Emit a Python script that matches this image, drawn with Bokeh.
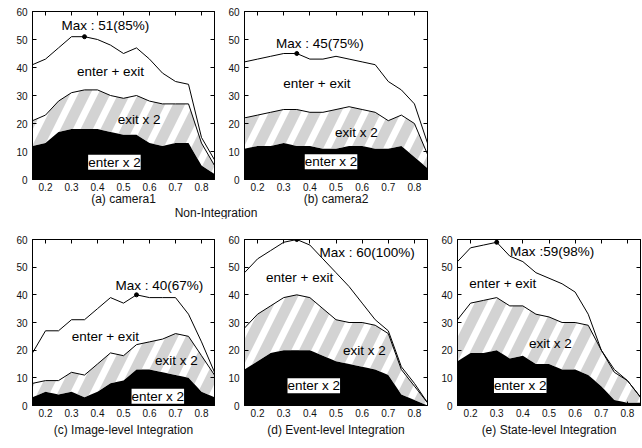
from bokeh.plotting import figure
from bokeh.models import Range1d, LinearAxis, FixedTicker, Label, Div
from bokeh.layouts import row, column
from bokeh.embed import file_html
from bokeh.resources import INLINE

# ---------------- data ----------------
x_vals = [0.15, 0.2, 0.25, 0.3, 0.35, 0.4, 0.45, 0.5, 0.55, 0.6, 0.65, 0.7, 0.75, 0.8, 0.85]
x_ticks = [0.2, 0.3, 0.4, 0.5, 0.6, 0.7, 0.8]
y_ticks = [0, 10, 20, 30, 40, 50, 60]

# (a) camera1
enter_a = [12, 13, 17, 18, 18, 18, 17, 16, 16, 13, 12, 13, 13, 5, 2]
exit_a = [21, 23, 28, 31, 32, 32, 30, 29, 30, 28, 27, 27, 27, 13, 5]
total_a = [41, 43, 47, 51, 51, 50, 48, 45, 47, 43, 38, 35, 34, 15, 7]
# (b) camera2
enter_b = [11, 12, 12, 13, 12, 12, 11, 11, 12, 12, 11, 11, 12, 8, 4]
exit_b = [22, 23, 24, 25, 25, 24, 24, 25, 26, 25, 24, 21, 23, 20, 9]
total_b = [42, 43, 44, 45, 45, 43, 43, 44, 43, 42, 41, 35, 32, 27, 13]
# (c) Image-level Integration
enter_c = [3, 5, 4, 5, 3, 5, 8, 9, 13, 13, 12, 11, 10, 5, 3]
exit_c = [8, 9, 9, 12, 11, 15, 19, 18, 22, 23, 24, 26, 25, 18, 11]
total_c = [19, 27, 27, 31, 31, 35, 39, 37, 40, 39, 39, 39, 33, 23, 12]
# (d) Event-level Integration
enter_d = [13, 16, 19, 20, 20, 20, 18, 16, 15, 14, 13, 11, 4, 2, 0]
exit_d = [28, 33, 36, 39, 40, 39, 35, 31, 30, 30, 29, 26, 13, 7, 1]
total_d = [48, 53, 56, 59, 60, 58, 53, 48, 43, 37, 31, 27, 14, 8, 1]
# (e) State-level Integration
enter_e = [16, 19, 19, 20, 17, 18, 15, 15, 13, 13, 11, 7, 2, 1, 1]
exit_e = [31, 37, 38, 39, 36, 36, 33, 32, 30, 30, 29, 20, 12, 9, 3]
total_e = [52, 57, 58, 59, 54, 52, 48, 46, 44, 41, 33, 20, 13, 9, 3]

captions = ["(a) camera1", "(b) camera2", "(c) Image-level Integration",
            "(d) Event-level Integration", "(e) State-level Integration"]
max_texts = ["Max : 51(85%)", "Max : 45(75%)", "Max : 40(67%)", "Max : 60(100%)", "Max :59(98%)"]
max_x = [0.35, 0.35, 0.55, 0.35, 0.3]
max_y = [51, 45, 40, 60, 59]
group_title = "Non-Integration"

# label placement (data coords) for: max text, enter+exit, exit x 2, enter x 2
label_pos = [
    [(0.43, 55.0), (0.45, 38.7), (0.56, 21.3), (0.465, 6.2)],
    [(0.438, 48.5), (0.427, 34.3), (0.578, 16.8), (0.481, 6.3)],
    [(0.638, 43.2), (0.43, 24.8), (0.703, 16.4), (0.632, 3.3)],
    [(0.619, 55.2), (0.361, 46.3), (0.609, 20.0), (0.415, 7.1)],
    [(0.512, 55.6), (0.323, 44.0), (0.505, 22.3), (0.39, 7.2)],
]

FONT = "Liberation Sans"


def make_panel(enter, ex, total, idx, width, height, left, right, top, bottom, cap_standoff):
    p = figure(width=width, height=height, output_backend="svg", toolbar_location=None,
               x_range=Range1d(0.15, 0.85), y_range=Range1d(0, 60),
               min_border_left=left, min_border_right=right,
               min_border_top=top, min_border_bottom=bottom)
    p.grid.visible = False
    p.outline_line_color = "black"
    p.outline_line_width = 1
    p.background_fill_color = "white"
    p.border_fill_color = "white"

    # areas
    p.varea(x=x_vals, y1=[0] * len(x_vals), y2=enter, fill_color="black")
    p.varea(x=x_vals, y1=enter, y2=ex, fill_color="white", fill_alpha=0.0,
            hatch_pattern="/", hatch_color="#a8a8a8", hatch_alpha=0.5,
            hatch_scale=40, hatch_weight=11)
    p.line(x_vals, ex, line_color="black", line_width=1)
    p.line(x_vals, total, line_color="black", line_width=1)
    p.scatter([max_x[idx]], [max_y[idx]], size=4, color="black")

    # axes
    for ax in (p.xaxis[0], p.yaxis[0]):
        ax.major_tick_in = 4
        ax.major_tick_out = 0
        ax.minor_tick_line_color = None
        ax.axis_line_color = "black"
        ax.major_tick_line_color = "black"
        ax.major_label_text_font = FONT
        ax.major_label_text_font_size = "10px"
        ax.major_label_text_color = "#111111"
    p.xaxis.ticker = FixedTicker(ticks=x_ticks)
    p.yaxis.ticker = FixedTicker(ticks=y_ticks)
    p.xaxis.major_label_standoff = 3
    p.yaxis.major_label_standoff = 5
    p.xaxis.axis_label = captions[idx]
    p.xaxis.axis_label_text_font = FONT
    p.xaxis.axis_label_text_font_size = "12px"
    p.xaxis.axis_label_text_font_style = "normal"
    p.xaxis.axis_label_text_color = "#111111"
    p.xaxis.axis_label_standoff = cap_standoff

    # mirror ticks (no labels)
    for loc, ticks in (("above", x_ticks), ("right", y_ticks)):
        ax = LinearAxis(ticker=FixedTicker(ticks=ticks), major_tick_in=4, major_tick_out=0,
                        minor_tick_line_color=None, major_label_text_font_size="0px",
                        major_label_text_color=None,
                        major_label_standoff=0, axis_line_color="black")
        p.add_layout(ax, loc)

    texts = [max_texts[idx], "enter + exit", "exit x 2", "enter x 2"]
    for k, (t, (lx, ly)) in enumerate(zip(texts, label_pos[idx])):
        lab = Label(x=lx, y=ly, text=t, text_align="center", text_baseline="middle",
                    text_font=FONT, text_font_size="13.5px", text_color="black")
        if k == 3:
            lab.background_fill_color = "white"
        p.add_layout(lab)
    return p


fa = make_panel(enter_a, exit_a, total_a, 0, 220, 208, 32, 6, 11, 28, -2)
fb = make_panel(enter_b, exit_b, total_b, 1, 212, 208, 24, 5, 11, 28, -2)
fc = make_panel(enter_c, exit_c, total_c, 2, 220, 221, 32, 6, 21, 32, 3)
fd = make_panel(enter_d, exit_d, total_d, 3, 212, 221, 24, 5, 21, 32, 3)
fe = make_panel(enter_e, exit_e, total_e, 4, 209, 221, 25, 1, 21, 32, 3)

div = Div(text=group_title, width=432, height=10, margin=(0, 0, 0, 0),
          styles={"text-align": "center", "font-family": FONT, "font-size": "12px",
                  "line-height": "10px", "color": "#111111"})

layout = column(row(fa, fb), div, row(fc, fd, fe))

open("out.html", "w").write(file_html(layout, INLINE))
